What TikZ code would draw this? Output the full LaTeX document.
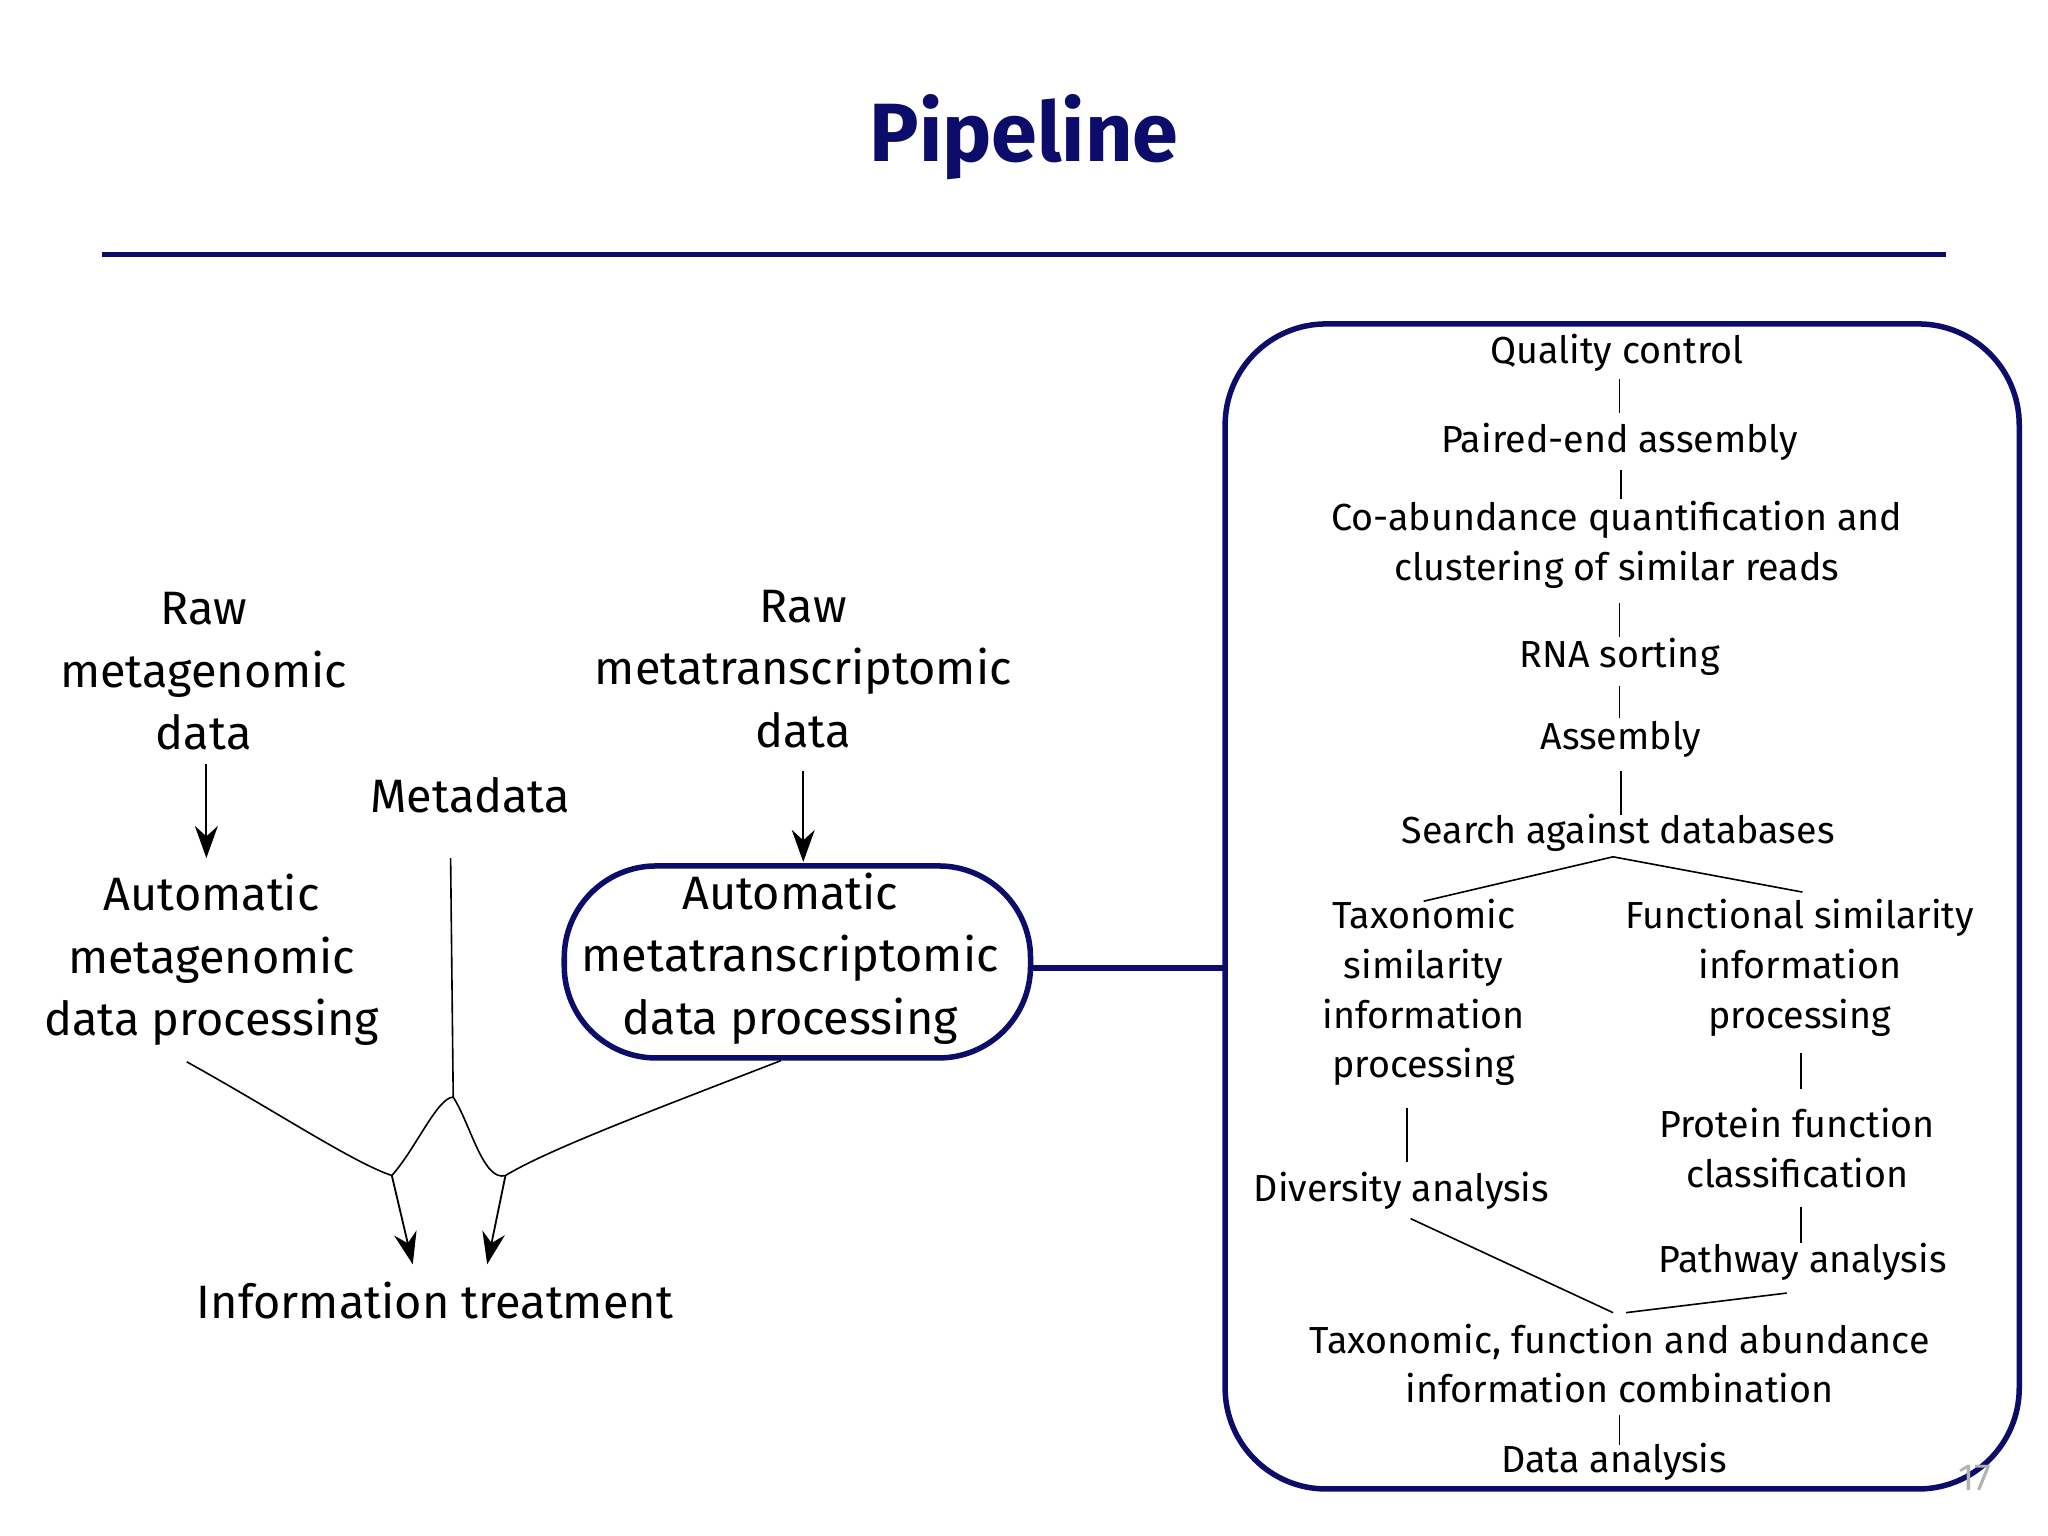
\documentclass[tikz,border=0pt]{standalone}
\usepackage{fontspec}
\setmainfont{Fira Sans}
\usetikzlibrary{arrows.meta}
\definecolor{navy}{HTML}{0C0C6A}
\begin{document}
\begin{tikzpicture}[x=0.01cm,y=-0.01cm,
  big/.style={font=\fontsize{10.2}{13.6}\selectfont,align=center,inner sep=0pt},
  sm/.style={font=\fontsize{8.2}{10.8}\selectfont,align=center,inner sep=0pt},
  ln/.style={line width=0.35pt},
  arr/.style={line width=0.4pt,-{Stealth[length=7pt,width=5pt]}}]
\useasboundingbox (0,0) rectangle (1568,1176);
\node[font=\fontsize{18}{20}\bfseries\selectfont,text=navy] (title) at (784,105) {Pipeline};
\draw[navy,line width=1.1pt] (78,195) coordinate (r1) -- (1490,195) coordinate (r2);
% right box
\draw[navy,line width=1.2pt,rounded corners=22] (938,248) rectangle (1546,1140);
\draw[navy,line width=1.2pt,rounded corners=20] (432,663) rectangle (789,810);
\coordinate (mb) at (789,741); \coordinate (rb) at (938,741);
\draw[navy,line width=1.2pt] (mb) -- (rb);
% right texts
\node[sm] (qc) at (1238,270) {Quality control};
\node[sm] (pe) at (1240,338) {Paired-end assembly};
\node[sm] (co) at (1238,417) {Co-abundance quantification and\\clustering of similar reads};
\node[sm] (rna) at (1240,503) {RNA sorting};
\node[sm] (as) at (1241,566) {Assembly};
\node[sm] (sa) at (1239,638) {Search against databases};
\node[sm] (tax) at (1090,760) {Taxonomic\\similarity\\information\\processing};
\node[sm] (fun) at (1378,741) {Functional similarity\\information\\processing};
\node[sm] (div) at (1073,912) {Diversity analysis};
\node[sm] (pf) at (1376,879) {Protein function\\classification};
\node[sm] (pa) at (1380,966) {Pathway analysis};
\node[sm] (tf) at (1240,1044) {Taxonomic, function and abundance\\information combination};
\node[sm] (da) at (1236,1119) {Data analysis};
\node[font=\fontsize{8.2}{10}\selectfont,text=gray!60] (n17) at (1512,1132) {17};
\draw[ln] (1240,290) -- (1240,316);
\draw[ln] (1241,360) -- (1241,382);
\draw[ln] (1240,462) -- (1240,488);
\draw[ln] (1240,525) -- (1240,550);
\draw[ln] (1241,590) -- (1241,624);
\coordinate (sp) at (1235,656);
\draw[ln] (1090,690) -- (sp) -- (1380,683);
\draw[ln] (1077,848) -- (1077,890);
\draw[ln] (1379,806) -- (1379,834);
\draw[ln] (1379,924) -- (1379,952);
\draw[ln] (1080,933) -- (1235,1005);
\draw[ln] (1245,1005) -- (1368,990);
\draw[ln] (1240,1083) -- (1240,1106);
% left
\node[big] (rmg) at (156,514) {Raw\\metagenomic\\data};
\node[big] (amg) at (162,735) {Automatic\\metagenomic\\data processing};
\node[big] (meta) at (360,609) {Metadata};
\node[big] (rmt) at (615,512) {Raw\\metatranscriptomic\\data};
\node[big] (amt) at (605,734) {Automatic\\metatranscriptomic\\data processing};
\node[big] (it) at (333,996) {Information treatment};
\draw[arr] (158,585) -- (158,657);
\draw[arr] (615,590) -- (615,660);
\coordinate (jl) at (300,900); \coordinate (jr) at (387,900); \coordinate (top) at (347,840);
\draw[ln] (143,813) .. controls (210,850) and (270,890) .. (jl)
  .. controls (318,880) and (335,840) .. (top)
  .. controls (360,860) and (370,905) .. (jr)
  .. controls (420,880) and (500,850) .. (598,812);
\draw[ln] (345,657) -- (top);
\draw[arr] (jl) -- (316,968);
\draw[arr] (jr) -- (373,968);
\end{tikzpicture}
\end{document}
